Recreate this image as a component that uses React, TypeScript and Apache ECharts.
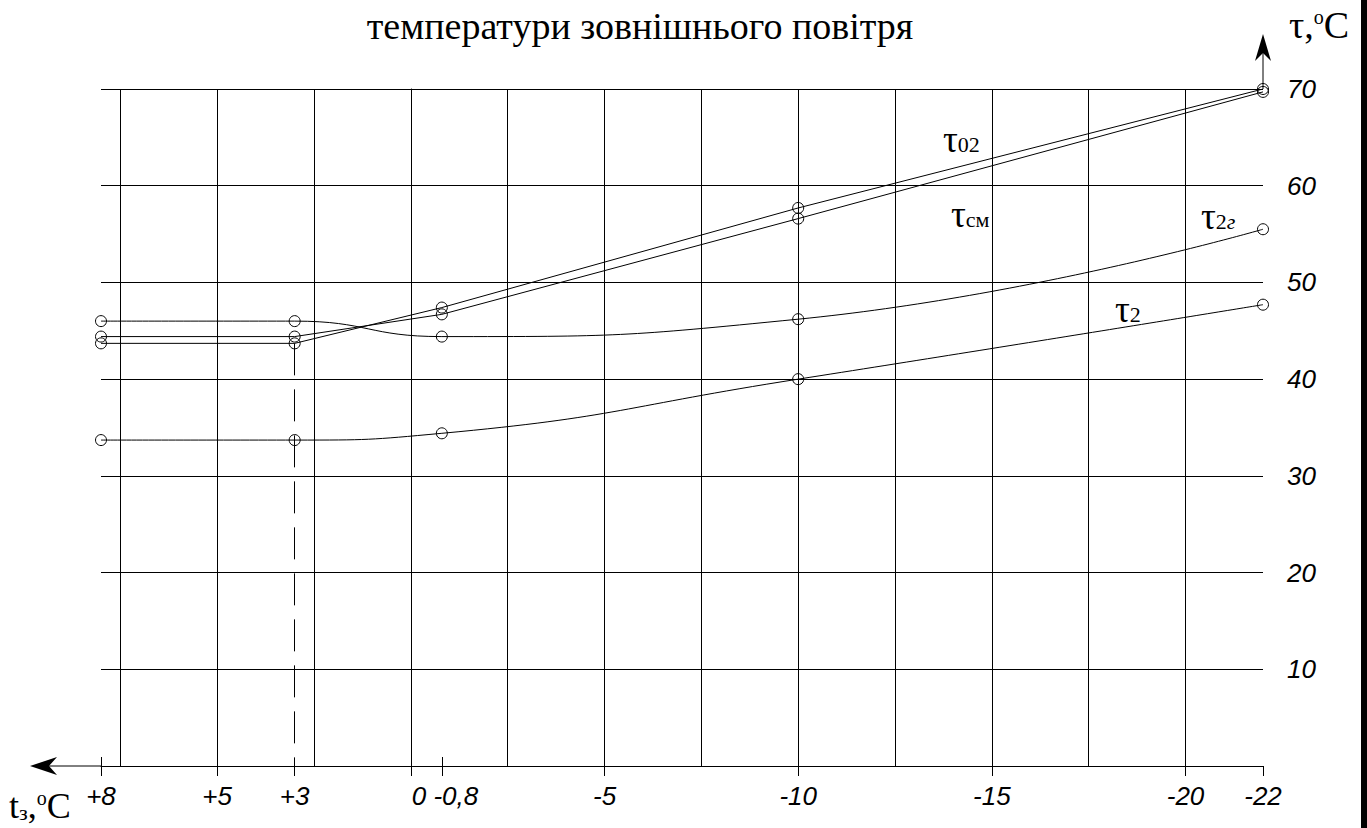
import React, { useEffect, useRef } from 'react';
import * as echarts from 'echarts';

// ---- data ----
const xVals = [8, 3, -0.8, -10, -22];
const tau02 = [43.7, 43.7, 47.4, 57.7, 70.0];
const tauSm = [44.4, 44.4, 46.7, 56.6, 69.7];
const tau2g = [46.0, 46.0, 44.4, 46.2, 55.5];
const tau2 = [33.7, 33.7, 34.4, 40.0, 47.7];

const xTickValues = [8, 5, 3, 0, -0.8, -5, -10, -15, -20, -22];
const xTickLabels = ['+8', '+5', '+3', '0', '-0,8', '-5', '-10', '-15', '-20', '-22'];
const xShortTicks = [8, -0.8];
const xGridValues = [7.5, 5, 2.5, 0, -2.5, -5, -7.5, -10, -12.5, -15, -17.5, -20];
const dashedAt = 3;

const titleText = 'температури зовнішнього повітря';

const SERIF = '"Liberation Serif", "Times New Roman", serif';
const SANS = '"Liberation Sans", Arial, sans-serif';

function richLabel(x: number, y: number, text: string, rich: any) {
  return {
    type: 'text',
    x,
    y,
    silent: true,
    style: {
      text,
      rich,
      align: 'left',
      verticalAlign: 'middle',
      textAlign: 'left',
      textVerticalAlign: 'middle',
      fill: '#000',
    },
  };
}

const tauRich = () => ({
  t: { fontSize: 37, fontFamily: SERIF, fill: '#000' },
  s: { fontSize: 22, fontFamily: SERIF, fill: '#000', padding: [10, 0, 0, 0] },
  g: { fontSize: 22, fontFamily: SERIF, fontStyle: 'italic', fill: '#000', padding: [10, 0, 0, 0] },
});

export default function App() {
  const ref = useRef<HTMLDivElement>(null);

  useEffect(() => {
    const chart = echarts.init(ref.current!, null, { renderer: 'svg' });
    const pts = (ys: number[]) => xVals.map((x, i) => [x, ys[i]]);
    const lineSeries = (name: string, ys: number[], smooth: any, extra: any = {}) => ({
      type: 'line',
      name,
      data: pts(ys),
      smooth,
      symbol: 'circle',
      symbolSize: 11,
      silent: true,
      z: 3,
      itemStyle: { color: 'rgba(255,255,255,0)', borderColor: '#000', borderWidth: 1 },
      lineStyle: { color: '#000', width: 1 },
      ...extra,
    });

    const labelFor = (v: number) => {
      const i = xTickValues.findIndex((t) => Math.abs(t - v) < 1e-6);
      if (i < 0) return '';
      const s = xTickLabels[i];
      if (s === '0') return '{z|' + s + '}';
      if (s === '-0,8') return '{d|' + s + '}';
      return s;
    };

    const labelFont = { fontSize: 26, fontFamily: SANS, fontStyle: 'italic', color: '#000' };

    chart.setOption({
      animation: false,
      backgroundColor: '#fff',
      grid: { left: 101, right: 104, top: 89, bottom: 62, containLabel: false },
      xAxis: [
        {
          type: 'value',
          min: -22,
          max: 8,
          inverse: true,
          position: 'bottom',
          axisLine: { show: true, lineStyle: { color: '#000', width: 1 } },
          axisTick: {
            show: true,
            inside: false,
            length: 10,
            customValues: xTickValues,
            lineStyle: { color: '#000', width: 1 },
          },
          axisLabel: {
            show: true,
            customValues: xTickValues,
            margin: 17,
            ...labelFont,
            formatter: (v: number) => labelFor(v),
            rich: {
              z: { ...labelFont, padding: [0, 0, 0, 16] },
              d: { ...labelFont, padding: [0, 0, 0, 28] },
            },
          },
          splitLine: { show: false },
        },
        {
          type: 'value',
          min: -22,
          max: 8,
          inverse: true,
          position: 'bottom',
          gridIndex: 0,
          axisLine: { show: false },
          axisTick: {
            show: true,
            inside: true,
            length: 9,
            customValues: xShortTicks,
            lineStyle: { color: '#000', width: 1 },
          },
          axisLabel: { show: false },
          splitLine: { show: false },
        },
      ],
      yAxis: {
        type: 'value',
        min: 0,
        max: 70,
        interval: 10,
        position: 'right',
        axisLine: { show: true, lineStyle: { color: '#000', width: 1 } },
        axisTick: { show: true, inside: false, length: 10, lineStyle: { color: '#000', width: 1 } },
        axisLabel: { show: true, margin: 24, showMinLabel: false, ...labelFont },
        splitLine: { show: true, lineStyle: { color: '#000', width: 1 } },
      },
      series: [
        lineSeries('τ02', tau02, false, {
          markLine: {
            silent: true,
            symbol: ['none', 'none'],
            label: { show: false },
            lineStyle: { color: '#000', width: 1, type: 'solid' },
            data: [
              ...xGridValues.map((v) => ({ xAxis: v })),
              [
                { coord: [dashedAt, tau02[1]], lineStyle: { type: [32, 14], color: '#000', width: 1 } },
                { coord: [dashedAt, 0] },
              ],
            ],
          },
        }),
        lineSeries('τсм', tauSm, false),
        lineSeries('τ2г', tau2g, 0.5),
        lineSeries('τ2', tau2, 0.5),
      ],
      graphic: [
        // extension of x axis with arrow (pointing left)
        { type: 'line', silent: true, shape: { x1: 40, y1: 766, x2: 101, y2: 766 }, style: { stroke: '#000', lineWidth: 1 } },
        { type: 'polygon', silent: true, shape: { points: [[30, 766], [57, 757], [49, 766], [57, 775]] }, style: { fill: '#000' } },
        // extension of y axis with arrow (pointing up)
        { type: 'line', silent: true, shape: { x1: 1263, y1: 89, x2: 1263, y2: 45 }, style: { stroke: '#000', lineWidth: 1 } },
        { type: 'polygon', silent: true, shape: { points: [[1263, 34], [1255, 61], [1263, 53], [1271, 61]] }, style: { fill: '#000' } },
        // right page border
        { type: 'rect', silent: true, shape: { x: 1361, y: 0, width: 6, height: 828 }, style: { fill: '#000' } },
        // title
        {
          type: 'text',
          x: 640,
          y: 26,
          silent: true,
          style: {
            text: titleText,
            fontSize: 38,
            fontFamily: SERIF,
            fill: '#000',
            align: 'center',
            verticalAlign: 'middle',
            textAlign: 'center',
            textVerticalAlign: 'middle',
          },
        },
        // axis names
        richLabel(1289, 25, '{a|τ,}{o|o}{a|C}', {
          a: { fontSize: 38, fontFamily: SERIF, fill: '#000' },
          o: { fontSize: 20, fontFamily: SERIF, fill: '#000', padding: [0, 0, 17, 0] },
        }),
        richLabel(9, 806, '{a|t}{s|з}{a|,}{o|o}{a|C}', {
          a: { fontSize: 36, fontFamily: SERIF, fill: '#000' },
          s: { fontSize: 22, fontFamily: SERIF, fill: '#000', padding: [12, 0, 0, 0] },
          o: { fontSize: 20, fontFamily: SERIF, fill: '#000', padding: [0, 0, 17, 0] },
        }),
        // series annotations
        richLabel(943, 139, '{t|τ}{s|02}', tauRich()),
        richLabel(951, 214, '{t|τ}{s|см}', tauRich()),
        richLabel(1201, 216, '{t|τ}{s|2}{g|г}', tauRich()),
        richLabel(1115, 309, '{t|τ}{s|2}', tauRich()),
      ],
    });

    return () => chart.dispose();
  }, []);

  return (
    <div
      ref={ref}
      style={{ position: 'fixed', left: 0, top: 0, width: 1367, height: 828, background: '#fff' }}
    />
  );
}
